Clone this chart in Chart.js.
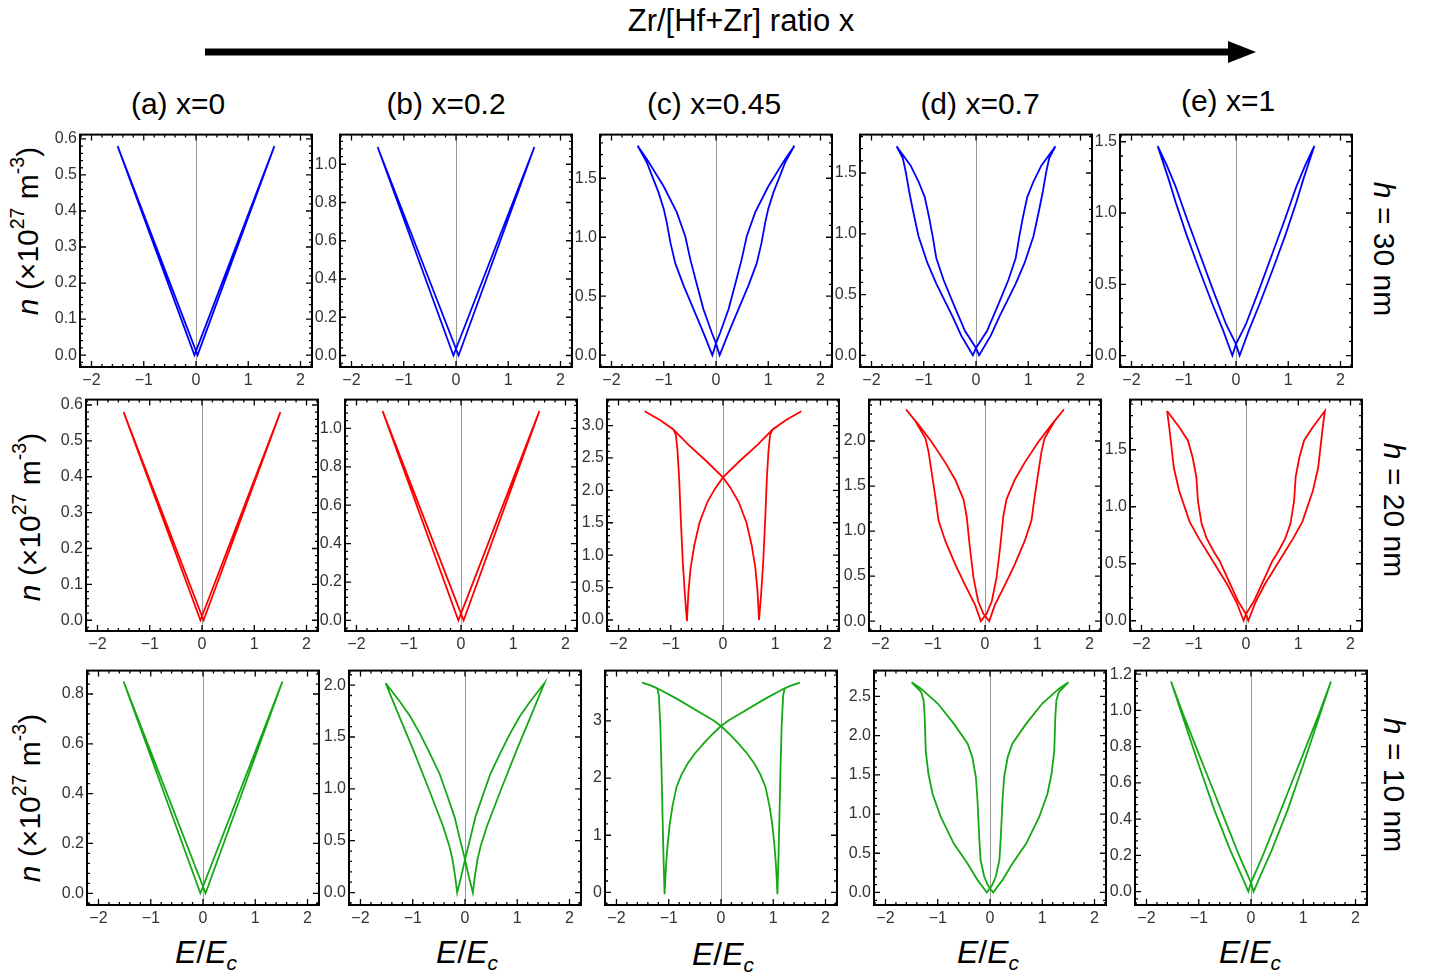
<!DOCTYPE html>
<html>
<head>
<meta charset="utf-8">
<script src="https://cdn.jsdelivr.net/npm/chart.js@4.4.1/dist/chart.umd.min.js"></script>
<style>
  body { margin:0; background:#fff; width:1432px; height:975px; position:relative; overflow:hidden;
         font-family:"Liberation Sans", Arial, sans-serif; color:#000; }
  canvas { position:absolute; }
  .lbl { position:absolute; white-space:nowrap; transform:translate(-50%,-50%); line-height:1; }
  .up { transform:translate(-50%,-50%) rotate(-90deg); }
  .down { transform:translate(-50%,-50%) rotate(90deg); }
  sup { font-size:65%; vertical-align:0.7em; line-height:0; }
  sub { font-size:65%; vertical-align:-0.35em; line-height:0; }
</style>
</head>
<body>
<svg width="1432" height="80" style="position:absolute;left:0;top:0">
  <line x1="205" y1="52" x2="1232" y2="52" stroke="#000" stroke-width="7"/>
  <polygon points="1228,41 1256,52 1228,63" fill="#000"/>
</svg>
<div class="lbl" style="left:741px;top:20px;font-size:31px">Zr/[Hf+Zr] ratio x</div>
<div class="lbl" style="left:178px;top:104px;font-size:30px">(a) x=0</div>
<div class="lbl" style="left:446px;top:104px;font-size:30px">(b) x=0.2</div>
<div class="lbl" style="left:714px;top:104px;font-size:30px">(c) x=0.45</div>
<div class="lbl" style="left:980px;top:104px;font-size:30px">(d) x=0.7</div>
<div class="lbl" style="left:1228px;top:101px;font-size:30px">(e) x=1</div>

<div class="lbl up" style="left:28px;top:231px;font-size:30px"><i>n</i> (×10<sup>27</sup> m<sup>-3</sup>)</div>
<div class="lbl up" style="left:30px;top:517px;font-size:30px"><i>n</i> (×10<sup>27</sup> m<sup>-3</sup>)</div>
<div class="lbl up" style="left:30px;top:798px;font-size:30px"><i>n</i> (×10<sup>27</sup> m<sup>-3</sup>)</div>

<div class="lbl down" style="left:1384px;top:249px;font-size:30px"><i>h</i> = 30 nm</div>
<div class="lbl down" style="left:1394px;top:510px;font-size:30px"><i>h</i> = 20 nm</div>
<div class="lbl down" style="left:1394px;top:785px;font-size:30px"><i>h</i> = 10 nm</div>

<div class="lbl" style="left:206px;top:952px;font-size:32px"><i>E</i>/<i>E<sub>c</sub></i></div>
<div class="lbl" style="left:467px;top:952px;font-size:32px"><i>E</i>/<i>E<sub>c</sub></i></div>
<div class="lbl" style="left:723px;top:954px;font-size:32px"><i>E</i>/<i>E<sub>c</sub></i></div>
<div class="lbl" style="left:988px;top:952px;font-size:32px"><i>E</i>/<i>E<sub>c</sub></i></div>
<div class="lbl" style="left:1250px;top:952px;font-size:32px"><i>E</i>/<i>E<sub>c</sub></i></div>

<script>
// ---- data: closed n(E) loops, one pair of arrays per panel ----
// h = 30 nm
const E_30a = [-1.5, 0.03, 1.5, -0.03, -1.5];
const n_30a = [0.58, 0, 0.58, 0, 0.58];
const E_30b = [-1.5, 0.05, 1.5, -0.05, -1.5];
const n_30b = [1.09, 0, 1.09, 0, 1.09];
const E_30c = [-1.5,-1.32,-1.1,-1.0,-0.94,-0.87,-0.78,-0.62,-0.43,-0.24,-0.07,
  0,0.08,0.24,0.39,0.49,0.59,0.75,1.0,1.32,1.5,
  1.32,1.1,1.0,0.94,0.87,0.78,0.62,0.43,0.24,0.07,
  0,-0.08,-0.24,-0.39,-0.49,-0.59,-0.75,-1.0,-1.32,-1.5];
const n_30c = [1.775,1.63,1.38,1.24,1.12,0.95,0.78,0.59,0.39,0.19,0,
  0.1,0.19,0.39,0.64,0.81,1.01,1.21,1.43,1.66,1.775,
  1.63,1.38,1.24,1.12,0.95,0.78,0.59,0.39,0.19,0,
  0.1,0.19,0.39,0.64,0.81,1.01,1.21,1.43,1.66,1.775];
const E_30d = [-1.52,-1.4,-1.34,-1.28,-1.21,-1.1,-0.93,-0.76,-0.6,-0.45,-0.28,-0.06,
  0,0.21,0.41,0.62,0.76,0.83,0.9,0.98,1.1,1.25,1.52,
  1.4,1.34,1.28,1.21,1.1,0.93,0.76,0.6,0.45,0.28,0.06,
  0,-0.21,-0.41,-0.62,-0.76,-0.83,-0.9,-0.98,-1.1,-1.25,-1.52];
const n_30d = [1.72,1.62,1.5,1.35,1.2,0.98,0.76,0.59,0.45,0.32,0.16,0,
  0.06,0.2,0.4,0.62,0.8,0.98,1.14,1.3,1.43,1.56,1.72,
  1.62,1.5,1.35,1.2,0.98,0.76,0.59,0.45,0.32,0.16,0,
  0.06,0.2,0.4,0.62,0.8,0.98,1.14,1.3,1.43,1.56,1.72];
const E_30e = [-1.5,-1.3,-1.15,-0.95,-0.7,-0.45,-0.25,-0.07,
  0,0.19,0.45,0.7,0.95,1.15,1.32,1.5,
  1.3,1.15,0.95,0.7,0.45,0.25,0.07,
  0,-0.19,-0.45,-0.7,-0.95,-1.15,-1.32,-1.5];
const n_30e = [1.47,1.25,1.07,0.85,0.6,0.36,0.18,0,
  0.08,0.22,0.47,0.72,0.97,1.18,1.33,1.47,
  1.25,1.07,0.85,0.6,0.36,0.18,0,
  0.08,0.22,0.47,0.72,0.97,1.18,1.33,1.47];

// h = 20 nm
const E_20a = [-1.5, 0.03, 1.5, -0.03, -1.5];
const n_20a = [0.58, 0, 0.58, 0, 0.58];
const E_20b = [-1.5, 0.05, 1.5, -0.05, -1.5];
const n_20b = [1.09, 0, 1.09, 0, 1.09];
const E_20c = [-1.5,-1.2,-0.95,-0.9,-0.87,-0.84,-0.81,-0.77,-0.73,-0.69,-0.66,-0.62,-0.55,-0.45,-0.3,-0.15,
  0,0.33,0.66,0.95,1.2,1.5,
  1.2,0.95,0.9,0.87,0.84,0.81,0.77,0.73,0.69,0.66,0.62,0.55,0.45,0.3,0.15,
  0,-0.33,-0.66,-0.95,-1.2,-1.5];
const n_20c = [3.22,3.08,2.94,2.85,2.6,2.2,1.6,0.9,0.4,-0.02,0.45,0.8,1.15,1.5,1.82,2.03,
  2.2,2.46,2.7,2.94,3.08,3.22,
  3.08,2.94,2.85,2.6,2.2,1.6,0.9,0.4,0,0.45,0.8,1.15,1.5,1.82,2.03,
  2.2,2.46,2.7,2.94,3.08,3.22];
const E_20d = [-1.51,-1.33,-1.14,-1.08,-1.02,-0.95,-0.89,-0.76,-0.57,-0.38,-0.19,-0.08,
  0.03,0.13,0.22,0.29,0.35,0.41,0.57,0.76,1.02,1.27,1.51,
  1.33,1.14,1.08,1.02,0.95,0.89,0.76,0.57,0.38,0.19,0.08,
  -0.03,-0.13,-0.22,-0.29,-0.35,-0.41,-0.57,-0.76,-1.02,-1.27,-1.51];
const n_20d = [2.35,2.22,2.03,1.88,1.65,1.38,1.12,0.89,0.63,0.4,0.18,0,
  0.08,0.22,0.48,0.82,1.16,1.35,1.57,1.76,1.99,2.18,2.35,
  2.22,2.03,1.88,1.65,1.38,1.12,0.89,0.63,0.4,0.18,0,
  0.08,0.22,0.48,0.82,1.16,1.35,1.57,1.76,1.99,2.18,2.35];
const E_20e = [-1.51,-1.47,-1.44,-1.38,-1.28,-1.08,-0.9,-0.75,-0.55,-0.36,-0.18,-0.045,
  0,0.15,0.3,0.5,0.62,0.75,0.85,0.92,0.95,1.02,1.11,1.28,1.51,
  1.47,1.44,1.38,1.28,1.08,0.9,0.75,0.55,0.36,0.18,0.045,
  0,-0.15,-0.3,-0.5,-0.62,-0.75,-0.85,-0.92,-0.95,-1.02,-1.11,-1.28,-1.51];
const n_20e = [1.84,1.7,1.58,1.34,1.14,0.87,0.72,0.61,0.46,0.32,0.16,0,
  0.06,0.17,0.32,0.52,0.61,0.72,0.85,1.05,1.26,1.43,1.58,1.7,1.84,
  1.7,1.58,1.34,1.14,0.87,0.72,0.61,0.46,0.32,0.16,0,
  0.06,0.17,0.32,0.52,0.61,0.72,0.85,1.05,1.26,1.43,1.58,1.7,1.84];

// h = 10 nm
const E_10a = [-1.52, 0.05, 1.52, -0.05, -1.52];
const n_10a = [0.85, 0, 0.85, 0, 0.85];
const E_10b = [-1.52,-1.3,-1.01,-0.71,-0.42,-0.3,-0.24,-0.19,-0.15,
  -0.07,0,0.1,0.2,0.35,0.49,0.68,0.86,1.05,1.23,1.52,
  1.3,1.01,0.71,0.42,0.3,0.24,0.19,0.15,
  0.07,0,-0.1,-0.2,-0.35,-0.49,-0.68,-0.86,-1.05,-1.23,-1.52];
const n_10b = [2.02,1.75,1.4,1.02,0.64,0.45,0.32,0.16,0,
  0.16,0.32,0.52,0.73,0.95,1.15,1.35,1.53,1.7,1.83,2.02,
  1.75,1.4,1.02,0.64,0.45,0.32,0.16,0,
  0.16,0.32,0.52,0.73,0.95,1.15,1.35,1.53,1.7,1.83,2.02];
const E_10c = [-1.51,-1.35,-1.22,-1.19,-1.16,-1.14,-1.12,-1.1,-1.08,-1.065,-1.05,-1.02,-0.98,-0.93,-0.85,-0.75,-0.64,-0.5,-0.31,-0.15,
  0,0.15,0.37,0.85,1.22,1.35,1.51,
  1.35,1.22,1.19,1.16,1.14,1.12,1.1,1.08,1.065,1.05,1.02,0.98,0.93,0.85,0.75,0.64,0.5,0.31,0.15,
  0,-0.15,-0.37,-0.85,-1.22,-1.35,-1.51];
const n_10c = [3.67,3.62,3.57,3.45,2.9,2.2,1.4,0.6,-0.03,0.25,0.5,0.85,1.2,1.5,1.85,2.07,2.25,2.43,2.63,2.78,
  2.91,3.01,3.13,3.39,3.57,3.62,3.67,
  3.62,3.57,3.45,2.9,2.2,1.4,0.6,-0.03,0.25,0.5,0.85,1.2,1.5,1.85,2.07,2.25,2.43,2.63,2.78,
  2.91,3.01,3.13,3.39,3.57,3.62,3.67];
const E_10d = [-1.5,-1.32,-1.27,-1.25,-1.23,-1.18,-1.1,-0.94,-0.69,-0.43,-0.24,-0.06,
  0.04,0.11,0.18,0.21,0.24,0.27,0.34,0.43,0.69,1.0,1.32,1.5,
  1.32,1.27,1.25,1.23,1.18,1.1,0.94,0.69,0.43,0.24,0.06,
  -0.04,-0.11,-0.18,-0.21,-0.24,-0.27,-0.34,-0.43,-0.69,-1.0,-1.32,-1.5];
const n_10d = [2.68,2.56,2.45,2.24,1.81,1.52,1.26,0.96,0.62,0.37,0.16,0,
  0.09,0.2,0.41,0.75,1.18,1.47,1.73,1.9,2.15,2.41,2.6,2.68,
  2.56,2.45,2.24,1.81,1.52,1.26,0.96,0.62,0.37,0.16,0,
  0.09,0.2,0.41,0.75,1.18,1.47,1.73,1.9,2.15,2.41,2.6,2.68];
const E_10e = [-1.53,-1.3,-1.0,-0.7,-0.4,-0.2,-0.05,
  0,0.2,0.45,0.75,1.0,1.3,1.53,
  1.3,1.0,0.7,0.4,0.2,0.05,
  0,-0.2,-0.45,-0.75,-1.0,-1.3,-1.53];
const n_10e = [1.16,0.96,0.7,0.45,0.23,0.1,0,
  0.05,0.18,0.36,0.58,0.76,0.98,1.16,
  0.96,0.7,0.45,0.23,0.1,0,
  0.05,0.18,0.36,0.58,0.76,0.98,1.16];

// tick labels
const xTicks = [-2, -1, 0, 1, 2];
const yTicks_01 = [0, 0.1, 0.2, 0.3, 0.4, 0.5, 0.6];
const yTicks_02a = [0, 0.2, 0.4, 0.6, 0.8, 1.0];
const yTicks_02b = [0, 0.2, 0.4, 0.6, 0.8];
const yTicks_02c = [0, 0.2, 0.4, 0.6, 0.8, 1.0, 1.2];
const yTicks_05a = [0, 0.5, 1.0, 1.5];
const yTicks_05b = [0, 0.5, 1.0, 1.5, 2.0];
const yTicks_05c = [0, 0.5, 1.0, 1.5, 2.0, 2.5];
const yTicks_05d = [0, 0.5, 1.0, 1.5, 2.0, 2.5, 3.0];
const yTicks_1 = [0, 1, 2, 3];

const BLUE = '#0000ff', RED = '#ff0000', GREEN = '#14a814';
const FONT = '"Liberation Sans", Arial, sans-serif';
const PAD_L = 44, PAD_T = 12, PAD_R = 12, PAD_B = 26;

const panels = [
  { E:E_30a, n:n_30a, c:BLUE, x:80,  y:134, w:232, h:233, yr:[-0.033,0.612], yt:yTicks_01, st:0.1, d:1 },
  { E:E_30b, n:n_30b, c:BLUE, x:340, y:134, w:232, h:233, yr:[-0.06,1.155],  yt:yTicks_02a, st:0.2, d:1 },
  { E:E_30c, n:n_30c, c:BLUE, x:600, y:134, w:232, h:233, yr:[-0.1,1.87],    yt:yTicks_05a, st:0.5, d:1 },
  { E:E_30d, n:n_30d, c:BLUE, x:860, y:134, w:232, h:233, yr:[-0.096,1.816], yt:yTicks_05a, st:0.5, d:1 },
  { E:E_30e, n:n_30e, c:BLUE, x:1120,y:134, w:232, h:233, yr:[-0.08,1.55],   yt:yTicks_05a, st:0.5, d:1 },

  { E:E_20a, n:n_20a, c:RED, x:86,  y:399, w:232, h:232, yr:[-0.03,0.615], yt:yTicks_01, st:0.1, d:1 },
  { E:E_20b, n:n_20b, c:RED, x:345, y:399, w:232, h:232, yr:[-0.055,1.15], yt:yTicks_02a, st:0.2, d:1 },
  { E:E_20c, n:n_20c, c:RED, x:607, y:399, w:232, h:232, yr:[-0.17,3.4],   yt:yTicks_05d, st:0.5, d:1 },
  { E:E_20d, n:n_20d, c:RED, x:869, y:399, w:232, h:232, yr:[-0.11,2.46],  yt:yTicks_05b, st:0.5, d:1 },
  { E:E_20e, n:n_20e, c:RED, x:1130,y:399, w:232, h:232, yr:[-0.09,1.94],  yt:yTicks_05a, st:0.5, d:1 },

  { E:E_10a, n:n_10a, c:GREEN, x:87,  y:670, w:232, h:235, yr:[-0.047,0.894], yt:yTicks_02b, st:0.2, d:1 },
  { E:E_10b, n:n_10b, c:GREEN, x:349, y:670, w:232, h:235, yr:[-0.12,2.14],   yt:yTicks_05b, st:0.5, d:1 },
  { E:E_10c, n:n_10c, c:GREEN, x:605, y:670, w:232, h:235, yr:[-0.22,3.88],   yt:yTicks_1,   st:1,   d:0 },
  { E:E_10d, n:n_10d, c:GREEN, x:874, y:670, w:232, h:235, yr:[-0.16,2.83],   yt:yTicks_05c, st:0.5, d:1 },
  { E:E_10e, n:n_10e, c:GREEN, x:1135,y:670, w:232, h:235, yr:[-0.074,1.22],  yt:yTicks_02c, st:0.2, d:1 }
];

function fmt(v, d) {
  return (v < 0 ? '\u2212' : '') + Math.abs(v).toFixed(d);
}

// frame, inward ticks on all four sides, and the gray E = 0 line
const framePlugin = {
  id: 'frame',
  beforeDatasetsDraw(chart) {
    const { ctx, chartArea: a, scales: { x } } = chart;
    const px = Math.round(x.getPixelForValue(0)) + 0.5;
    ctx.save();
    ctx.strokeStyle = '#999';
    ctx.lineWidth = 1;
    ctx.beginPath(); ctx.moveTo(px, a.top); ctx.lineTo(px, a.bottom); ctx.stroke();
    ctx.restore();
  },
  afterDraw(chart, args, opts) {
    const { ctx, chartArea: a, scales: { x, y } } = chart;
    ctx.save();
    ctx.strokeStyle = '#000';
    ctx.lineWidth = 1.3;
    ctx.beginPath();
    const xs = 0.2;
    for (let k = Math.ceil(x.min / xs - 1e-9); k <= Math.floor(x.max / xs + 1e-9); k++) {
      const p = x.getPixelForValue(k * xs), L = (k % 5 === 0) ? 6 : 3;
      ctx.moveTo(p, a.bottom); ctx.lineTo(p, a.bottom - L);
      ctx.moveTo(p, a.top); ctx.lineTo(p, a.top + L);
    }
    const ys = opts.step / 5;
    for (let k = Math.ceil(y.min / ys - 1e-9); k <= Math.floor(y.max / ys + 1e-9); k++) {
      const p = y.getPixelForValue(k * ys), L = (k % 5 === 0) ? 6 : 3;
      ctx.moveTo(a.left, p); ctx.lineTo(a.left + L, p);
      ctx.moveTo(a.right, p); ctx.lineTo(a.right - L, p);
    }
    ctx.stroke();
    ctx.lineWidth = 2;
    ctx.strokeRect(a.left, a.top, a.right - a.left, a.bottom - a.top);
    ctx.restore();
  }
};

panels.forEach(p => {
  const cv = document.createElement('canvas');
  const W = p.w + PAD_L + PAD_R, H = p.h + PAD_T + PAD_B;
  cv.width = W; cv.height = H;
  cv.style.left = (p.x - PAD_L) + 'px';
  cv.style.top = (p.y - PAD_T) + 'px';
  document.body.appendChild(cv);

  new Chart(cv, {
    type: 'scatter',
    data: {
      datasets: [{
        data: p.E.map((e, i) => ({ x: e, y: p.n[i] })),
        showLine: true,
        borderColor: p.c,
        borderWidth: 1.8,
        pointRadius: 0,
        tension: 0,
        fill: false
      }]
    },
    options: {
      responsive: false,
      animation: false,
      devicePixelRatio: 1,
      layout: { padding: { top: PAD_T, right: PAD_R, left: 0, bottom: 0 } },
      plugins: { legend: { display: false }, tooltip: { enabled: false }, frame: { step: p.st } },
      scales: {
        x: {
          type: 'linear', min: -2.22, max: 2.22,
          grid: { display: false, drawTicks: false },
          border: { display: false },
          afterBuildTicks: s => { s.ticks = xTicks.map(v => ({ value: v })); },
          afterFit: s => { s.height = PAD_B; },
          ticks: { padding: 4, maxRotation: 0, autoSkip: false, color: '#333',
                   font: { family: FONT, size: 16 }, callback: v => fmt(v, 0) }
        },
        y: {
          type: 'linear', min: p.yr[0], max: p.yr[1],
          grid: { display: false, drawTicks: false },
          border: { display: false },
          afterBuildTicks: s => { s.ticks = p.yt.map(v => ({ value: v })); },
          afterFit: s => { s.width = PAD_L; },
          ticks: { padding: 3, autoSkip: false, color: '#333',
                   font: { family: FONT, size: 16 }, callback: v => fmt(v, p.d) }
        }
      }
    },
    plugins: [framePlugin]
  });
});
</script>
</body>
</html>
